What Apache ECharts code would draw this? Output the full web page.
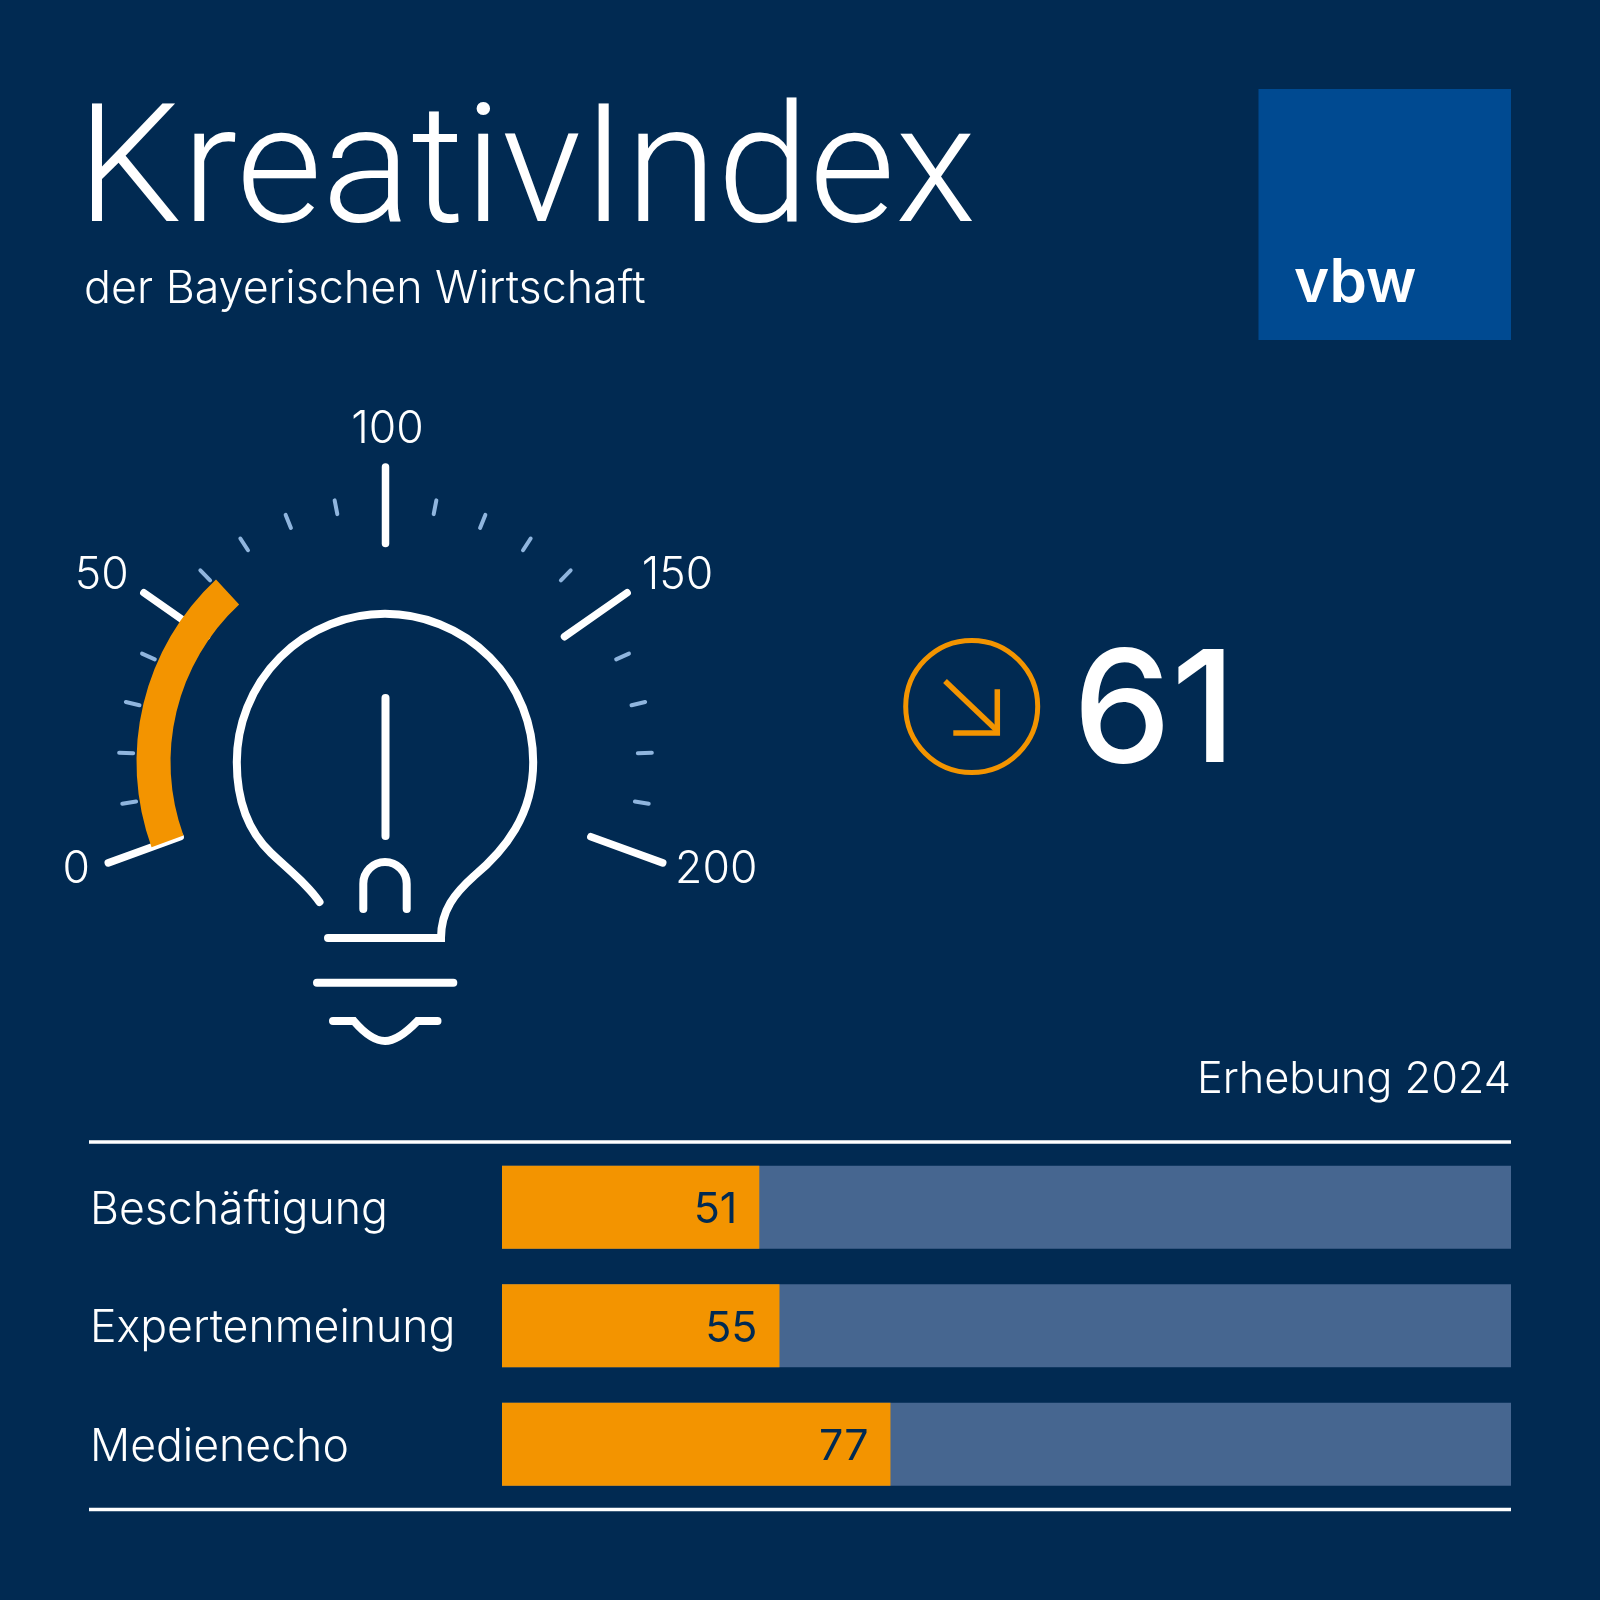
<!DOCTYPE html>
<html>
<head>
<meta charset="utf-8">
<style>
html,body{margin:0;padding:0;background:#012a52;}
#chart{width:1600px;height:1600px;}
</style>
<script src="https://cdn.jsdelivr.net/npm/echarts@6/dist/echarts.min.js"></script>
</head>
<body>
<div id="chart"></div>
<script>
// values
const titleText = 'KreativIndex';
const subtitleText = 'der Bayerischen Wirtschaft';
const logoText = 'vbw';
const surveyText = 'Erhebung 2024';
const gaugeValue = 61;
const gaugeMin = 0;
const gaugeMax = 200;
const categories = ['Beschäftigung', 'Expertenmeinung', 'Medienecho'];
const scores = [51, 55, 77];

const navy = '#012a52';
const orange = '#f39400';
const white = '#ffffff';
const fontName = 'Inter, "Liberation Sans", sans-serif';

// gauge labels get auto aligned by echarts, padding pulls each one back into place
const labelRich = {
    l0: {padding: [0, 0, 58, 53]},
    l50: {padding: [86, 0, 0, 17]},
    l100: {padding: [45, 0, 0, 4]},
    l150: {padding: [86, 0, 0, 0]},
    l200: {padding: [0, 4, 58, 0]}
};
Object.keys(labelRich).forEach(k => {
    labelRich[k].color = white;
    labelRich[k].fontSize = 44.5;
    labelRich[k].fontFamily = fontName;
    labelRich[k].fontWeight = 350;
});

let pathCount = 0;
function stroke(color, width) {
    return {stroke: color, lineWidth: width, lineCap: 'round', lineJoin: 'miter', fill: null};
}
// graphic has no plain path type, so each outline gets registered as a shape
function pathEl(d, style) {
    let name = 'lampPath' + (pathCount++);
    echarts.graphic.registerShape(name, echarts.graphic.extendPath(d, {}));
    return {type: name, style: style, silent: true};
}
function ruleEl(y) {
    return {type: 'line', shape: {x1: 89, y1: y, x2: 1511, y2: y}, style: {stroke: white, lineWidth: 3.5}, silent: true};
}

let chart = echarts.init(document.getElementById('chart'));
let option = {
    backgroundColor: navy,
    animation: false,
    title: [
        {
            text: titleText,
            left: 77,
            top: 96.5,
            padding: 0,
            textStyle: {color: white, fontFamily: 'Roboto, sans-serif', fontWeight: 300, fontSize: 166}
        },
        {
            text: subtitleText,
            left: 84,
            top: 267,
            padding: 0,
            textStyle: {color: white, fontFamily: fontName, fontWeight: 350, fontSize: 44.8}
        }
    ],
    grid: {left: 502, right: 89, top: 1148, bottom: 96.5},
    xAxis: {type: 'value', min: 0, max: gaugeMax, show: false},
    yAxis: {
        type: 'category',
        data: categories,
        inverse: true,
        axisLine: {show: false},
        axisTick: {show: false},
        axisLabel: {
            align: 'left',
            margin: 412,
            formatter: v => '{cat|' + v + '}',
            rich: {
                cat: {
                    color: white,
                    fontFamily: fontName,
                    fontWeight: 350,
                    fontSize: 44.6,
                    padding: [6, 0, 0, 0]
                }
            }
        }
    },
    series: [
        {
            type: 'bar',
            data: scores,
            barWidth: 83,
            showBackground: true,
            backgroundStyle: {color: '#466690'},
            itemStyle: {color: orange},
            label: {
                show: true,
                position: 'insideRight',
                distance: 22,
                formatter: '{num|{c}}',
                rich: {
                    num: {
                        color: navy,
                        fontFamily: fontName,
                        fontWeight: 400,
                        fontSize: 43,
                        padding: [6, 0, 0, 0]
                    }
                }
            }
        },
        // minor ticks go in their own gauge below the main one so the white ticks cover them
        {
            type: 'gauge',
            center: [385.5, 762],
            radius: 249,
            startAngle: 200,
            endAngle: -20,
            min: gaugeMin,
            max: gaugeMax,
            splitNumber: 4,
            data: [{value: gaugeValue}],
            axisLine: {show: false, lineStyle: {width: 0}},
            pointer: {show: false},
            anchor: {show: false},
            title: {show: false},
            detail: {show: false},
            splitLine: {show: false},
            axisLabel: {show: false},
            axisTick: {
                splitNumber: 5,
                distance: -17.5,
                length: 14,
                lineStyle: {color: '#8fb5de', width: 4, cap: 'round'}
            }
        },
        {
            type: 'gauge',
            center: [385.5, 762],
            radius: 249,
            startAngle: 200,
            endAngle: -20,
            min: gaugeMin,
            max: gaugeMax,
            splitNumber: 4,
            data: [{value: gaugeValue}],
            axisLine: {show: false, lineStyle: {width: 0}},
            progress: {show: true, width: 34, itemStyle: {color: orange}},
            pointer: {show: false},
            anchor: {show: false},
            title: {show: false},
            axisTick: {show: false},
            splitLine: {
                distance: -46,
                length: 76.5,
                lineStyle: {color: white, width: 7.5, cap: 'round'}
            },
            axisLabel: {
                distance: -181.5,
                formatter: v => '{l' + v + '|' + v + '}',
                rich: labelRich
            },
            detail: {
                offsetCenter: [769, -47],
                formatter: '{value}',
                color: white,
                fontFamily: fontName,
                fontWeight: 450,
                fontSize: 156
            }
        }
    ],
    graphic: [
        {type: 'rect', shape: {x: 1258.5, y: 89, width: 252.5, height: 251}, style: {fill: '#004a91'}, silent: true},
        {type: 'text', x: 1294, y: 284, style: {text: logoText, fill: white, fontFamily: fontName, fontWeight: 600, fontSize: 60, textAlign: 'left', textVerticalAlign: 'middle'}, silent: true},
        {type: 'text', x: 1511, y: 1080, style: {text: surveyText, fill: white, fontFamily: fontName, fontWeight: 350, fontSize: 43.3, textAlign: 'right', textVerticalAlign: 'middle'}, silent: true},
        ruleEl(1142),
        ruleEl(1509.5),
        // light bulb
        pathEl('M319.5 902 C308 885 290 871 271 853 C250 833 236.8 805 236.8 762 A148.2 148.2 0 0 1 533.2 762 C533.2 815 505 850 474 876 C455 893 441 910 441 938 L328 938', stroke(white, 8)),
        pathEl('M385.5 698 L385.5 836', stroke(white, 8)),
        pathEl('M363.3 909 L363.3 883.7 A21.7 21.7 0 0 1 406.7 883.7 L406.7 909', stroke(white, 8)),
        pathEl('M317 982.7 L453.3 982.7', stroke(white, 8)),
        pathEl('M333 1021 L353.8 1021 C365 1034 375 1041 385 1041 C395 1041 405 1034 417.5 1021 L437.5 1021', stroke(white, 8)),
        // trend arrow
        {type: 'circle', shape: {cx: 971.7, cy: 706.5, r: 66}, style: {stroke: orange, lineWidth: 5, fill: null}, silent: true},
        pathEl('M945 681 L996.7 730.3', {stroke: orange, lineWidth: 5.5, fill: null}),
        pathEl('M997.3 689.3 L997.3 733 L953.3 733', {stroke: orange, lineWidth: 5.5, fill: null})
    ]
};
chart.setOption(option);
</script>
</body>
</html>
